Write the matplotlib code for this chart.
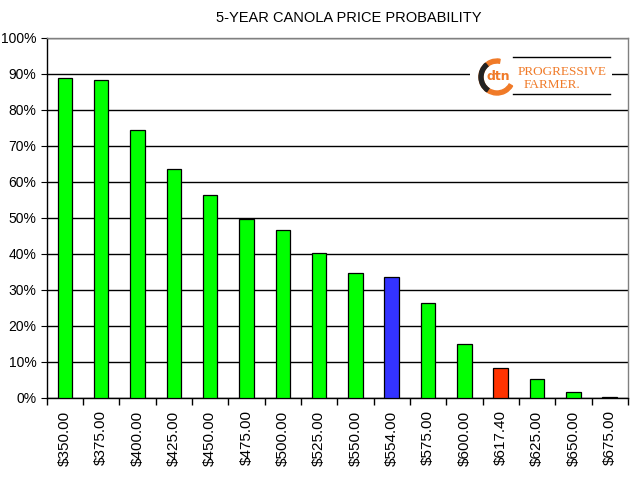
import matplotlib
matplotlib.use("Agg")
import matplotlib.pyplot as plt
from matplotlib.patches import Circle, Wedge
import numpy as np

plt.rcParams['font.family'] = ['Liberation Sans Narrow', 'Liberation Sans', 'DejaVu Sans']

categories = ["$350.00", "$375.00", "$400.00", "$425.00", "$450.00", "$475.00",
              "$500.00", "$525.00", "$550.00", "$554.00", "$575.00", "$600.00",
              "$617.40", "$625.00", "$650.00", "$675.00"]
values = [89.0, 88.3, 74.3, 63.5, 56.3, 49.8, 46.7, 40.3, 34.8, 33.6, 26.3, 15.1,
          8.3, 5.2, 1.6, 0.3]
colors = ["#00ff00"] * 9 + ["#3333ff", "#00ff00", "#00ff00", "#ff3300",
                            "#00ff00", "#00ff00", "#00ff00"]

fig = plt.figure(figsize=(6.4, 4.8), dpi=100)
ax = fig.add_axes([0.073, 0.171, 0.908, 0.750])

x = np.arange(len(categories))
ax.bar(x, values, width=0.4, color=colors, edgecolor="black", linewidth=0.9, zorder=3)

ax.set_xlim(-0.5, len(categories) - 0.5)
ax.set_ylim(0, 100)
ax.set_yticks(np.arange(0, 101, 10))
ax.set_yticklabels([f"{v}%" for v in range(0, 101, 10)], fontsize=10)
ax.yaxis.grid(True, color="black", linewidth=1.0, zorder=1)
ax.set_axisbelow(True)

ax.set_xticks(x)
ax.set_xticklabels(categories, rotation=90, fontsize=11)
ax.set_xticks(np.arange(-0.5, len(categories), 1), minor=True)
ax.tick_params(axis='x', which='major', length=0, pad=9)
ax.tick_params(axis='x', which='minor', length=5, width=1, direction='out', color='black')
ax.tick_params(axis='y', length=4, direction='out', color='black')

for s in ['left', 'bottom']:
    ax.spines[s].set_color('black')
    ax.spines[s].set_linewidth(1.0)
for s in ['top', 'right']:
    ax.spines[s].set_color('#808080')
    ax.spines[s].set_linewidth(1.0)

fig.text(0.545, 0.962, "5-YEAR CANOLA PRICE PROBABILITY", ha='center', va='center',
         fontsize=10.5)

# logo (white box covering grid lines)
lax = fig.add_axes([470 / 640, 1 - 98 / 480, 142 / 640, 46 / 480])
lax.set_xlim(0, 142)
lax.set_ylim(0, 46)
lax.set_facecolor('white')
for s in lax.spines.values():
    s.set_visible(False)
lax.set_xticks([])
lax.set_yticks([])
lax.add_patch(Wedge((27, 21), 18, 80, 330, width=4, color='#f07a28'))
lax.add_patch(Wedge((27, 21), 18, 130, 235, width=4, color='#222222'))
lax.text(28, 21, "dtn", ha='center', va='center', fontsize=9, color='#f07a28',
         fontweight='bold', family='DejaVu Sans')
lax.plot([43, 140], [41, 41], color='black', lw=1)
lax.plot([43, 140], [4, 4], color='black', lw=1)
lax.text(92, 26, "PROGRESSIVE", ha='center', va='center', fontsize=9.5, color='#f07a28',
         family='Liberation Serif')
lax.text(82, 13, "FARMER.", ha='center', va='center', fontsize=9.5, color='#f07a28',
         family='Liberation Serif')

fig.savefig("out.png", dpi=100)
